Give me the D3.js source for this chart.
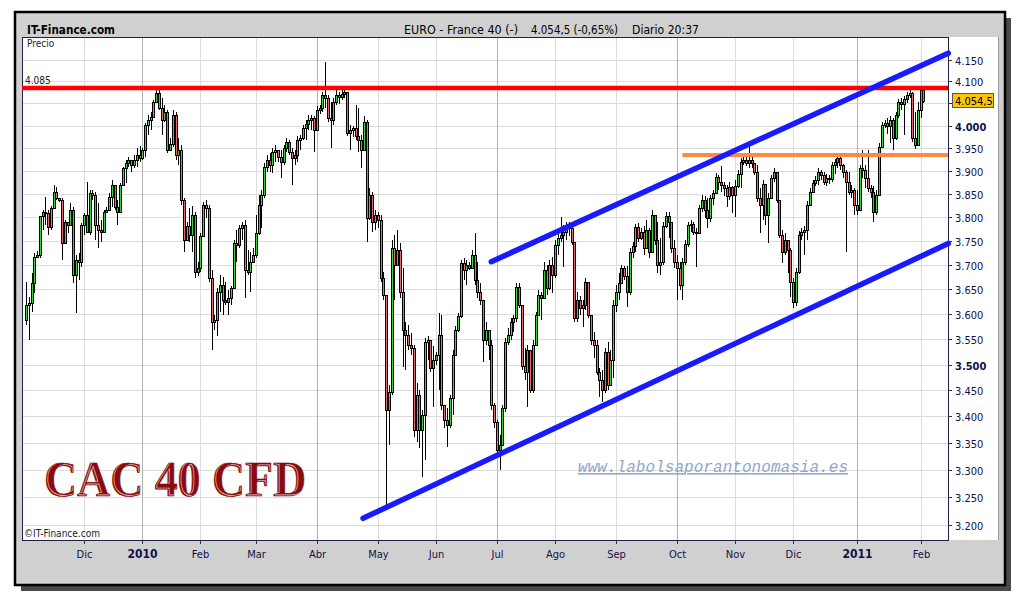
<!DOCTYPE html>
<html><head><meta charset="utf-8">
<script src="https://cdn.jsdelivr.net/npm/d3@7"></script>
<style>
body{margin:0;background:#fff;}
svg{display:block;}
.narrow{font-family:"Liberation Sans Narrow","DejaVu Sans Condensed","Arial Narrow",sans-serif;}
</style></head><body>
<svg id="chart" width="1020" height="600"></svg>
<script>
// Daily CFD sessions (EURO - France 40), early Nov 2009 to early Feb 2011
const highs = [
3665,3635,3684,3725,3729,3804,3816,3844,3816,3824,
3870,3866,3841,3841,3795,3791,3831,3822,3721,3725,
3789,3810,3876,3859,3859,3855,3831,3795,3816,3822,
3852,3880,3870,3837,3874,3909,3924,3931,3920,3935,
3950,3955,3950,4005,4024,4030,4057,4080,4080,4062,
4046,4035,3972,4035,4030,3972,3957,3841,3791,3820,
3824,3812,3707,3767,3833,3837,3827,3690,3598,3653,
3680,3676,3665,3649,3657,3752,3773,3784,3791,3795,
3731,3727,3735,3806,3848,3859,3917,3935,3939,3950,
3957,3946,3946,3957,3972,3968,3950,3946,3977,3979,
4001,4012,4024,4024,4021,4044,4046,4075,4144,4069,
4053,4062,4080,4075,4080,4085,4075,4001,3999,4046,
4039,3979,4021,4012,3863,3855,3816,3812,3806,3686,
3632,3461,3752,3763,3773,3746,3694,3584,3578,3562,
3539,3464,3451,3412,3552,3556,3509,3537,3525,3602,
3598,3422,3416,3441,3529,3576,3602,3711,3715,3711,
3707,3731,3767,3707,3663,3628,3584,3568,3548,3426,
3393,3365,3422,3552,3572,3592,3598,3663,3663,3618,
3533,3539,3519,3548,3604,3649,3645,3707,3701,3711,
3717,3752,3773,3801,3784,3791,3791,3789,3748,3645,
3636,3628,3673,3663,3598,3564,3548,3494,3490,3533,
3544,3529,3628,3659,3684,3701,3699,3699,3735,3748,
3786,3789,3778,3782,3795,3778,3816,3806,3791,3756,
3791,3812,3812,3791,3752,3721,3707,3715,3752,3791,
3795,3791,3778,3827,3848,3846,3841,3848,3859,3896,
3891,3911,3876,3870,3876,3868,3880,3902,3928,3933,
3931,3961,3933,3917,3913,3863,3880,3852,3852,3891,
3906,3898,3837,3773,3767,3752,3735,3673,3694,3771,
3778,3782,3835,3863,3880,3889,3906,3902,3898,3893,
3891,3920,3926,3937,3935,3915,3902,3898,3870,3863,
3859,3913,3946,3913,3946,3870,3868,3859,3961,4008,
4012,4017,4021,4017,4030,4059,4062,4066,4075,4082,
4075,4030,4053,4084,4087
];
const lows = [
3578,3548,3604,3643,3715,3715,3773,3784,3763,3773,
3822,3837,3833,3711,3746,3767,3789,3663,3602,3669,
3697,3763,3767,3763,3837,3752,3735,3748,3769,3810,
3816,3822,3816,3784,3812,3870,3874,3909,3898,3906,
3909,3920,3924,3931,3979,3990,4017,4053,4035,3979,
4008,3939,3946,3953,3924,3913,3827,3727,3752,3748,
3727,3673,3678,3686,3761,3799,3665,3529,3568,3556,
3604,3598,3618,3598,3618,3686,3707,3735,3752,3632,
3680,3645,3707,3715,3763,3778,3841,3898,3898,3896,
3920,3920,3885,3913,3942,3935,3870,3913,3920,3946,
3968,3968,3990,3990,3942,3990,4026,4030,4039,4008,
3950,4001,4046,4048,4057,4062,3977,3946,3975,3968,
3942,3906,3963,3748,3795,3769,3773,3778,3665,3628,
3227,3346,3441,3628,3707,3632,3495,3490,3529,3519,
3361,3352,3341,3287,3318,3509,3486,3418,3500,3451,
3412,3378,3343,3378,3403,3519,3564,3592,3669,3659,
3690,3694,3659,3632,3618,3505,3539,3509,3412,3378,
3328,3300,3346,3408,3539,3548,3564,3584,3612,3490,
3470,3418,3445,3445,3539,3596,3588,3632,3639,3649,
3643,3673,3721,3748,3697,3752,3761,3742,3584,3584,
3598,3574,3608,3592,3539,3513,3480,3437,3427,3445,
3451,3466,3474,3604,3628,3665,3669,3614,3639,3715,
3727,3748,3752,3721,3748,3715,3727,3742,3684,3680,
3701,3778,3756,3725,3694,3628,3649,3628,3701,3738,
3769,3763,3697,3784,3812,3799,3778,3791,3827,3855,
3859,3855,3846,3822,3837,3810,3801,3863,3863,3913,
3911,3906,3906,3891,3833,3767,3795,3784,3746,3870,
3876,3831,3756,3705,3721,3684,3634,3612,3616,3682,
3752,3721,3752,3824,3855,3868,3870,3880,3870,3868,
3872,3876,3893,3906,3902,3885,3727,3848,3841,3806,
3806,3816,3885,3863,3855,3841,3791,3806,3848,3950,
3994,3981,3961,3946,3968,4017,4035,3979,4051,4062,
3963,3948,3955,4017,4051
];
const closes = [
3618,3622,3663,3717,3721,3802,3812,3810,3780,3820,
3855,3841,3837,3746,3791,3784,3816,3680,3711,3707,
3784,3806,3769,3852,3848,3784,3773,3769,3812,3816,
3844,3870,3822,3812,3870,3906,3917,3924,3913,3924,
3935,3928,3946,4001,4012,4019,4053,4073,4039,4012,
4030,3946,3959,4024,3935,3946,3837,3752,3782,3763,
3806,3686,3694,3761,3827,3820,3673,3584,3588,3645,
3659,3628,3624,3632,3653,3746,3742,3778,3784,3690,
3686,3707,3721,3767,3827,3848,3909,3924,3913,3942,
3946,3931,3920,3950,3963,3942,3928,3935,3968,3972,
3994,4003,4012,4017,3990,4035,4039,4069,4062,4017,
4012,4053,4069,4064,4071,4075,3983,3990,3994,3977,
3968,3946,4008,3799,3848,3791,3806,3795,3673,3639,
3412,3447,3735,3701,3731,3645,3568,3558,3539,3533,
3374,3441,3374,3402,3544,3548,3494,3509,3519,3558,
3422,3393,3384,3435,3519,3568,3596,3705,3690,3701,
3694,3721,3669,3645,3628,3548,3568,3539,3422,3389,
3337,3346,3416,3544,3558,3584,3592,3655,3618,3497,
3486,3529,3451,3539,3598,3639,3632,3690,3653,3701,
3680,3742,3756,3763,3769,3782,3778,3748,3592,3628,
3612,3618,3665,3598,3548,3539,3486,3470,3451,3525,
3460,3509,3618,3645,3663,3694,3678,3645,3727,3740,
3780,3756,3769,3735,3773,3727,3806,3752,3701,3707,
3782,3804,3791,3735,3707,3694,3659,3707,3744,3784,
3786,3769,3767,3820,3837,3816,3799,3841,3852,3887,
3876,3870,3863,3846,3866,3848,3868,3893,3920,3924,
3917,3924,3917,3898,3841,3827,3872,3806,3841,3885,
3898,3837,3763,3727,3752,3731,3665,3624,3686,3763,
3769,3773,3827,3855,3874,3880,3898,3891,3876,3885,
3882,3913,3920,3928,3913,3898,3876,3855,3859,3827,
3816,3906,3902,3885,3863,3855,3812,3848,3953,4001,
4005,3999,4012,3972,4024,4053,4048,4060,4069,4073,
3972,3957,4035,4081,4054.5
];
const firstOpen = 3588;

// Month boundaries (session index) and their labels
const monthIndex = [21, 42, 63, 83, 105, 127, 148, 170, 191, 213, 235, 256, 277, 300, 323];
const monthLabels = ["Dic","2010","Feb","Mar","Abr","May","Jun","Jul","Ago","Sep","Oct","Nov","Dic","2011","Feb"];
const quarterStarts = ["2010","Abr","Jul","Oct","2011"];
const yearLabels = ["2010","2011"];

// Price axis
const priceTicks = [3200,3250,3300,3350,3400,3450,3500,3550,3600,3650,3700,3750,3800,3850,3900,3950,4000,4050,4100,4150];
const boldTicks = [3500,4000];

// Drawn levels and trend channel
const resistance = 4085;
const supportLevel = 3935;
const supportFrom = 237;
const channelUpper = [[168, 3707], [333, 4165]];
const channelLower = [[121.7, 3212], [333, 3745]];

const lastClose = 4054.5;
const lastPrice = "4.054,5";
const headerLeft = "IT-Finance.com";
const headerRight = ["EURO - France 40 (-)", "4.054,5 (-0,65%)", "Diario  20:37"];

const svg = d3.select("#chart");
const plot = {l: 22, r: 948, t: 37, b: 540};

const x = d3.scaleLinear().domain([-1.44, 332.9]).range([plot.l, plot.r]);
const y = d3.scaleLog().domain([3173.3, 4202.9]).range([plot.b, plot.t]);

// frame with drop shadow
svg.append("rect").attr("x", 21).attr("y", 18).attr("width", 990).attr("height", 573).attr("fill", "#4a4a4a");
svg.append("rect").attr("x", 15).attr("y", 12).attr("width", 990).attr("height", 573)
  .attr("fill", "#d0d0d0").attr("stroke", "#000").attr("stroke-width", 2.5);

// header
svg.append("text").attr("class", "narrow").attr("x", 27).attr("y", 34)
  .attr("font-size", 13).attr("font-weight", "bold").attr("fill", "#000")
  .attr("textLength", 88).attr("lengthAdjust", "spacingAndGlyphs").text(headerLeft);
const hx = [404, 531, 632], hw = [114, 87, 67];
headerRight.forEach((t, k) => svg.append("text").attr("class", "narrow").attr("x", hx[k]).attr("y", 34)
  .attr("font-size", 13).attr("fill", "#000")
  .attr("textLength", hw[k]).attr("lengthAdjust", "spacingAndGlyphs").text(t));

// plot background and price axis panel
svg.append("rect").attr("x", plot.l).attr("y", plot.t).attr("width", 998 - plot.l).attr("height", plot.b - plot.t)
  .attr("fill", "#fff");
svg.append("line").attr("x1", 998.5).attr("x2", 998.5).attr("y1", plot.t).attr("y2", plot.b).attr("stroke", "#9a9a9a");

const g = svg.append("g");
// horizontal grid
g.selectAll("line.hg").data(priceTicks).join("line")
  .attr("x1", plot.l).attr("x2", plot.r)
  .attr("y1", d => Math.round(y(d)) + 0.5).attr("y2", d => Math.round(y(d)) + 0.5)
  .attr("stroke", "#dcdcdc").attr("stroke-width", 1);
// vertical grid
g.selectAll("line.vg").data(monthIndex).join("line")
  .attr("x1", d => Math.round(x(d)) + 0.5).attr("x2", d => Math.round(x(d)) + 0.5)
  .attr("y1", plot.t).attr("y2", plot.b)
  .attr("stroke", (d, k) => quarterStarts.includes(monthLabels[k]) ? "#b4b4b4" : "#dcdcdc");

// plot border
svg.append("rect").attr("x", plot.l + 0.5).attr("y", plot.t + 0.5).attr("width", plot.r - plot.l).attr("height", plot.b - plot.t)
  .attr("fill", "none").attr("stroke", "#202040");

// inner labels
svg.append("text").attr("class", "narrow").attr("x", 27).attr("y", 47).attr("font-size", 10).attr("fill", "#222").text("Precio");
svg.append("text").attr("class", "narrow").attr("x", 24).attr("y", 537).attr("font-size", 10).attr("fill", "#222").text("\u00A9IT-Finance.com");

// candles: each session opens at the prior close
const bars = closes.map((c, i) => {
  const o = i === 0 ? firstOpen : closes[i - 1];
  return {i, o, c, h: Math.max(highs[i], o, c), l: Math.min(lows[i], o, c)};
});
const cg = svg.append("g");
bars.forEach(d => {
  const cx = Math.round(x(d.i));
  const yh = Math.round(y(d.h)), yl = Math.round(y(d.l));
  const yo = Math.round(y(d.o)), yc = Math.round(y(d.c));
  cg.append("rect").attr("x", cx).attr("y", yh).attr("width", 1).attr("height", Math.max(1, yl - yh)).attr("fill", "#000");
  const top = Math.min(yo, yc), bot = Math.max(yo, yc);
  cg.append("rect").attr("x", cx - 1).attr("y", top).attr("width", 3).attr("height", Math.max(1, bot - top + 1)).attr("fill", "#000");
  if (bot - top >= 2) {
    cg.append("rect").attr("x", cx).attr("y", top + 1).attr("width", 1).attr("height", bot - top - 1)
      .attr("fill", d.c >= d.o ? "#3fd23f" : "#e86a6a");
  }
});

// levels and channel
svg.append("line").attr("x1", plot.l).attr("x2", plot.r).attr("y1", y(resistance)).attr("y2", y(resistance))
  .attr("stroke", "#ff0000").attr("stroke-width", 4.5);
svg.append("text").attr("class", "narrow").attr("x", 25).attr("y", y(resistance) - 4).attr("font-size", 10).attr("fill", "#222").text("4.085");
svg.append("line").attr("x1", x(supportFrom)).attr("x2", plot.r).attr("y1", y(supportLevel)).attr("y2", y(supportLevel))
  .attr("stroke", "#ff8844").attr("stroke-width", 4);
[channelUpper, channelLower].forEach(seg => {
  svg.append("line").attr("x1", x(seg[0][0])).attr("y1", y(seg[0][1])).attr("x2", x(seg[1][0])).attr("y2", y(seg[1][1]))
    .attr("stroke", "#1a1aff").attr("stroke-width", 5.5).attr("stroke-linecap", "round");
});

// price axis (the label under the last-price marker stays hidden)
const ly = y(lastClose);
const ax = svg.append("g");
priceTicks.forEach(p => {
  const yy = Math.round(y(p)) + 0.5;
  ax.append("line").attr("x1", plot.r).attr("x2", plot.r + 4).attr("y1", yy).attr("y2", yy).attr("stroke", "#333");
  if (Math.abs(yy - ly) < 12) return;
  ax.append("text").attr("class", "narrow").attr("x", plot.r + 7).attr("y", yy + 4)
    .attr("font-size", 11).attr("font-weight", boldTicks.includes(p) ? "bold" : "normal")
    .attr("fill", "#10104a").text((p / 1000).toFixed(3));
});
// last price marker
svg.append("rect").attr("x", plot.r + 4.5).attr("y", Math.round(ly) - 7.5).attr("width", 41).attr("height", 14)
  .attr("fill", "#ffc400").attr("stroke", "#555");
svg.append("text").attr("class", "narrow").attr("x", plot.r + 7).attr("y", Math.round(ly) + 4).attr("font-size", 11).attr("fill", "#000").text(lastPrice);

// time axis
monthIndex.forEach((mi, k) => {
  const xx = Math.round(x(mi)) + 0.5;
  const isYear = yearLabels.includes(monthLabels[k]);
  svg.append("line").attr("x1", xx).attr("x2", xx).attr("y1", plot.b).attr("y2", plot.b + 4).attr("stroke", "#333");
  svg.append("text").attr("class", "narrow").attr("x", xx).attr("y", 558).attr("text-anchor", "middle")
    .attr("font-size", isYear ? 12 : 11).attr("font-weight", isYear ? "bold" : "normal")
    .attr("fill", "#10104a").text(monthLabels[k]);
});

// engraved-style title: solid letters with a light inline
const titleAttrs = sel => sel.attr("x", 44).attr("y", 496).attr("font-family", "Liberation Serif, DejaVu Serif, serif")
  .attr("font-size", 50).attr("font-weight", "bold")
  .attr("textLength", 262).attr("lengthAdjust", "spacingAndGlyphs").text("CAC 40 CFD");
svg.append("text").call(titleAttrs).attr("fill", "#8b0a0a");
svg.append("text").call(titleAttrs).attr("fill", "none").attr("stroke", "rgba(255,235,235,0.75)")
  .attr("stroke-width", 0.8).attr("transform", "translate(1.6,-1.2)");
svg.append("text").call(titleAttrs).attr("fill", "none").attr("stroke", "#7a0606").attr("stroke-width", 0.6);

svg.append("text").attr("x", 578).attr("y", 472).attr("font-family", "Liberation Mono, DejaVu Sans Mono, monospace")
  .attr("font-size", 16).attr("font-style", "italic").attr("fill", "#8fa7c9")
  .attr("text-decoration", "underline").attr("textLength", 270).text("www.labolsaporantonomasia.es");
</script>
</body></html>
